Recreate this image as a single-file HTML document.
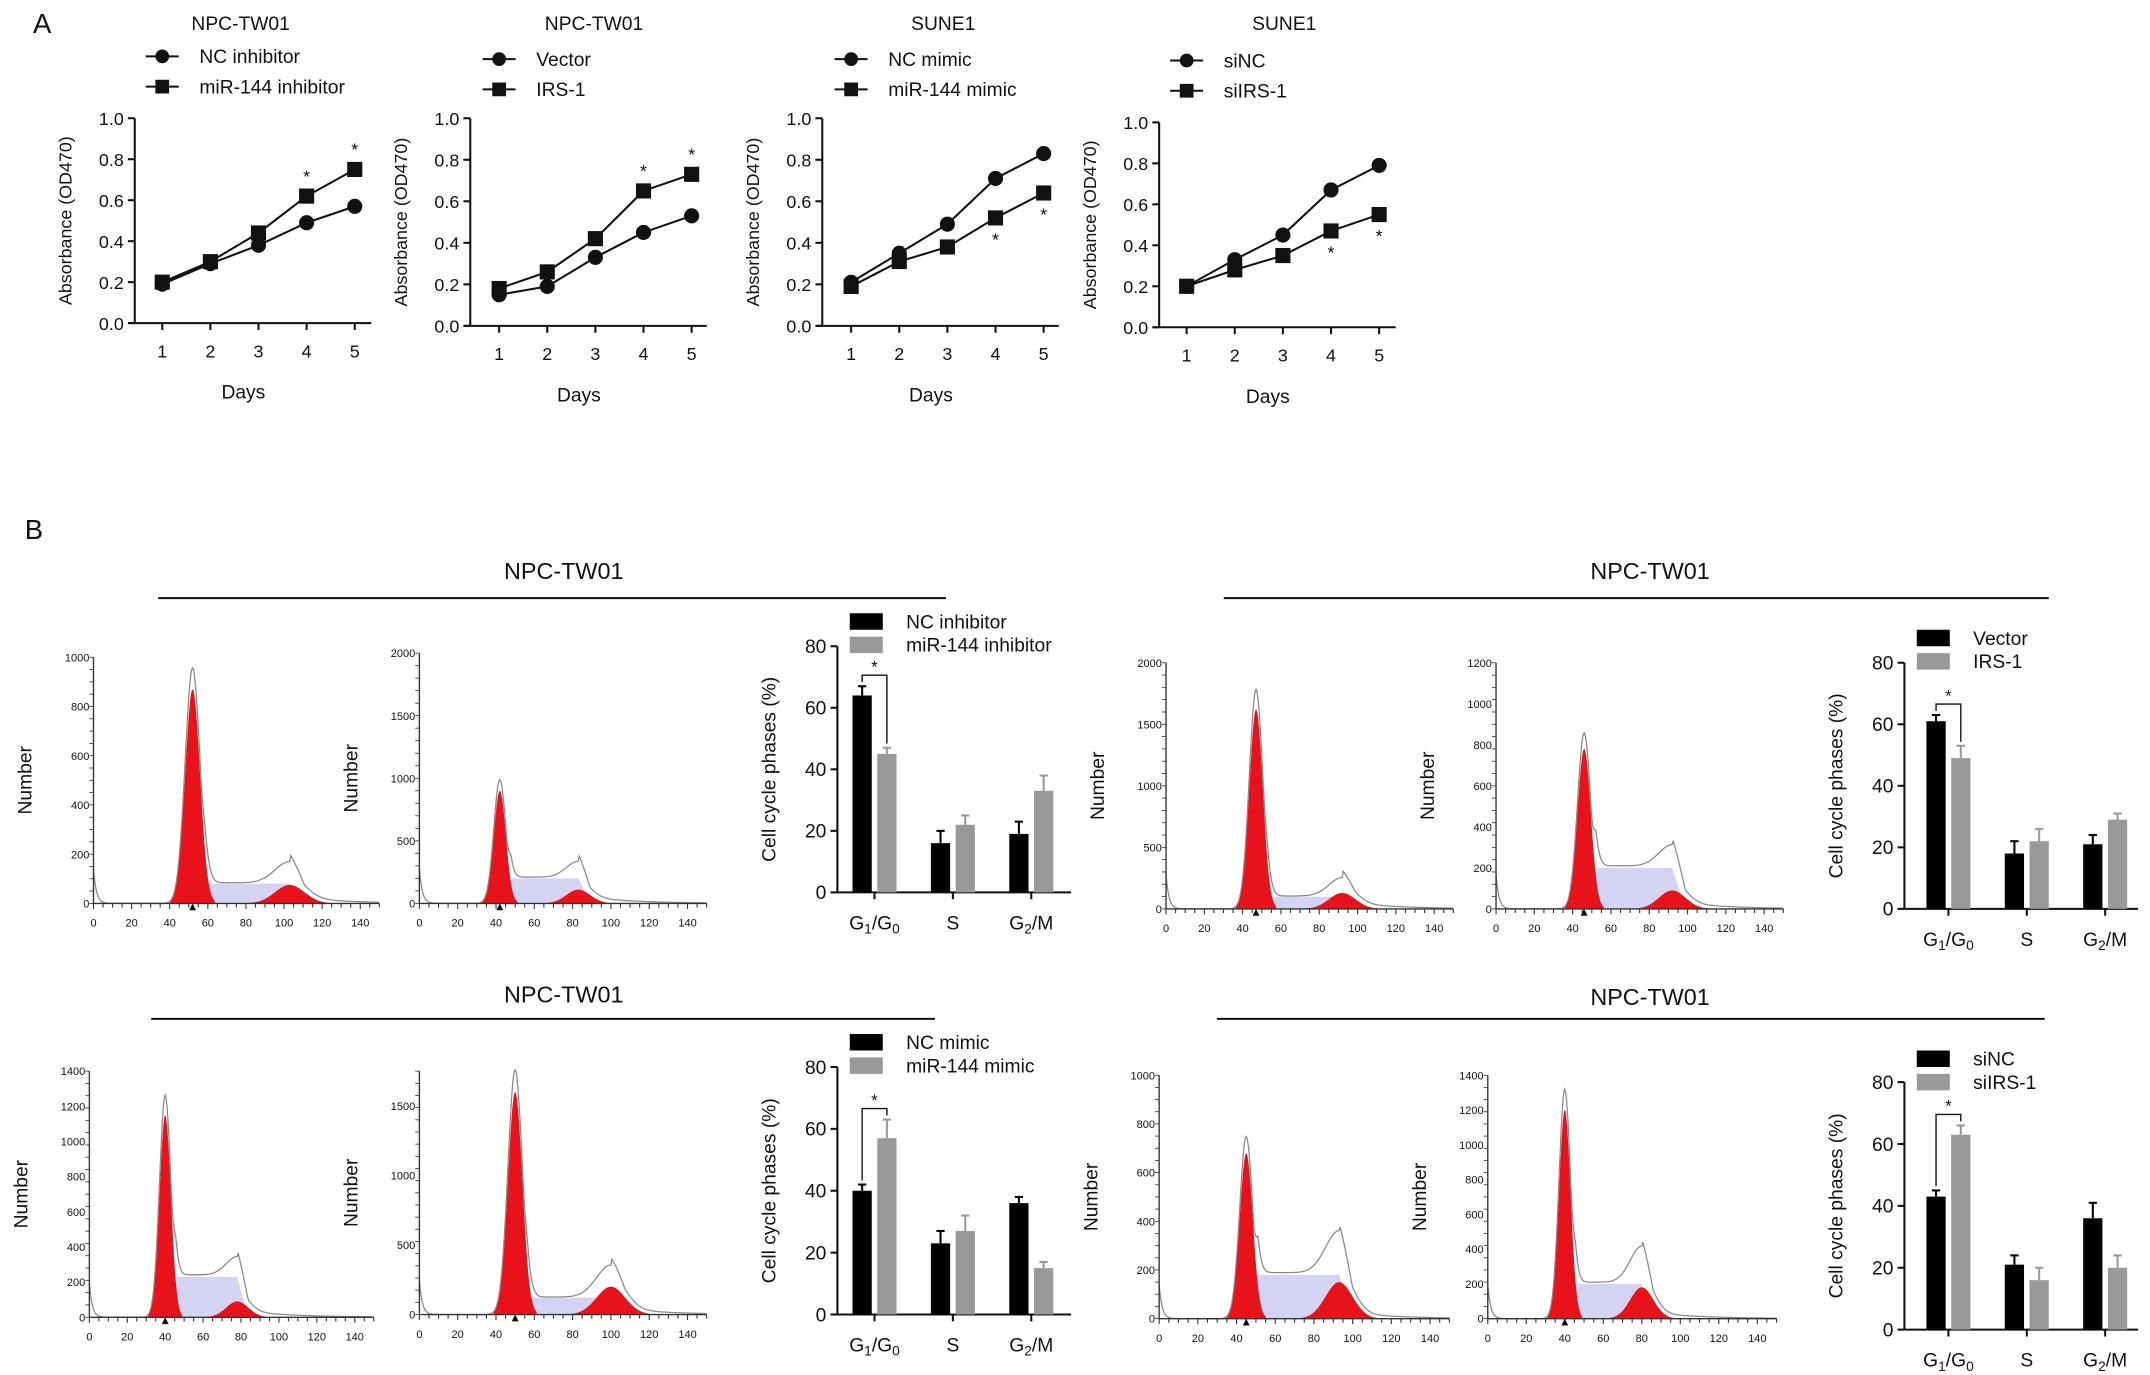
<!DOCTYPE html>
<html><head><meta charset="utf-8"><style>
html,body{margin:0;padding:0;background:#fff}
svg{display:block}
text{font-family:"Liberation Sans",sans-serif;fill:#111}
</style></head><body>
<svg id="fig" width="2150" height="1375" viewBox="0 0 1563.6 1000" preserveAspectRatio="none" xmlns="http://www.w3.org/2000/svg"></svg>
<script>
// ---- Panel A data ----
const days=[1,2,3,4,5];
const aTitles=["NPC-TW01","NPC-TW01","SUNE1","SUNE1"];
const aCircleLabels=["NC inhibitor","Vector","NC mimic","siNC"];
const aSquareLabels=["miR-144 inhibitor","IRS-1","miR-144 mimic","siIRS-1"];
const aCircle1=[0.19,0.29,0.38,0.49,0.57];
const aSquare1=[0.20,0.30,0.44,0.62,0.75];
const aCircle2=[0.15,0.19,0.33,0.45,0.53];
const aSquare2=[0.18,0.26,0.42,0.65,0.73];
const aCircle3=[0.21,0.35,0.49,0.71,0.83];
const aSquare3=[0.19,0.31,0.38,0.52,0.64];
const aCircle4=[0.20,0.33,0.45,0.67,0.79];
const aSquare4=[0.20,0.28,0.35,0.47,0.55];
const yTicksA=[0.0,0.2,0.4,0.6,0.8,1.0];
// ---- Panel B bar data ----
const phases=["G1/G0","S","G2/M"];
const barBlack1=[64,16,19], barGray1=[45,22,33];
const barBlack2=[61,18,21], barGray2=[49,22,29];
const barBlack3=[40,23,36], barGray3=[57,27,15];
const barBlack4=[43,21,36], barGray4=[63,16,20];
const barErrB1=[3,4,4], barErrG1=[2,3,5];
const barErrB2=[2,4,3], barErrG2=[4,4,2];
const barErrB3=[2,4,2], barErrG3=[6,5,2];
const barErrB4=[2,3,5], barErrG4=[3,4,4];
const barBlackLabels=["NC inhibitor","Vector","NC mimic","siNC"];
const barGrayLabels=["miR-144 inhibitor","IRS-1","miR-144 mimic","siIRS-1"];
const yTicksB=[0,20,40,60,80];
// ---- Histogram data ----
const histYMax=[1000,2000,2000,1200,1400,1750,1000,1400];
const histTicks=[[200,400,600,800,1000],[500,1000,1500,2000],[500,1000,1500,2000],[200,400,600,800,1000,1200],[200,400,600,800,1000,1200,1400],[500,1000,1500],[200,400,600,800,1000],[200,400,600,800,1000,1200,1400]];
const histG1=[52,42,47,46,40,50,45,40];
const histG1H=[870,900,1620,780,1150,1600,680,1200];
const histG2=[103,83,92,92,78,100,93,80];
const histG2H=[75,110,130,90,90,200,150,180];
const histS=[80,200,100,200,230,120,180,200];
const xTicksH=[0,20,40,60,80,100,120,140];

const NS="http://www.w3.org/2000/svg";
const svg=document.getElementById('fig');
function el(tag,attrs,parent){const e=document.createElementNS(NS,tag);for(const k in attrs)e.setAttribute(k,attrs[k]);(parent||svg).appendChild(e);return e;}
function txt(s,x,y,size,anchor,parent,rot){const t=el('text',{x:x,y:y,'font-size':size,'text-anchor':anchor||'middle'},parent);if(rot)t.setAttribute('transform','rotate(-90 '+x+' '+y+')');t.textContent=s;return t;}

const aLayout=[{ax:98,top:86,bot:235,x1:118,tx:175,ty:22,ly:41},{ax:342,top:86,bot:237,x1:363,tx:432,ty:22,ly:43},{ax:598,top:86,bot:237,x1:619,tx:686,ty:22,ly:43},{ax:843,top:89,bot:238,x1:863,tx:934,ty:22,ly:44}];
const aC=[aCircle1,aCircle2,aCircle3,aCircle4], aS=[aSquare1,aSquare2,aSquare3,aSquare4];
const lbA=txt("A",24,24,20,'start');


aLayout.forEach((L,i)=>{
  const g=el('g',{});
  
  
  const xs=d=>L.x1+(d-1)*35, ys=v=>L.bot-v*(L.bot-L.top);
  txt(aTitles[i],L.tx,L.ty,14,'middle',g);
  el('line',{x1:L.x1-12,y1:L.ly,x2:L.x1+12,y2:L.ly,stroke:'#111','stroke-width':1.5},g);
  el('circle',{cx:L.x1,cy:L.ly,r:5,fill:'#111'},g);
  txt(aCircleLabels[i],L.x1+27,L.ly+5,14,'start',g);
  el('line',{x1:L.x1-12,y1:L.ly+22,x2:L.x1+12,y2:L.ly+22,stroke:'#111','stroke-width':1.5},g);
  el('rect',{x:L.x1-5,y:L.ly+17,width:10,height:10,fill:'#111'},g);
  txt(aSquareLabels[i],L.x1+27,L.ly+27,14,'start',g);
  el('line',{x1:L.ax,y1:L.top,x2:L.ax,y2:L.bot,stroke:'#111','stroke-width':1.5},g);
  el('line',{x1:L.ax-4,y1:L.bot,x2:L.ax+172,y2:L.bot,stroke:'#111','stroke-width':1.5},g);
  yTicksA.forEach(t=>{el('line',{x1:L.ax-5,y1:ys(t),x2:L.ax,y2:ys(t),stroke:'#111','stroke-width':1.5},g);txt(t.toFixed(1),L.ax-8,ys(t)+5,13,'end',g);});
  days.forEach(d=>{el('line',{x1:xs(d),y1:L.bot,x2:xs(d),y2:L.bot+5,stroke:'#111','stroke-width':1.5},g);txt(String(d),xs(d),L.bot+25,13,'middle',g);});
  txt("Days",L.ax+79,L.bot+55,14,'middle',g);
  txt("Absorbance (OD470)",L.ax-46,(L.top+L.bot)/2,13,'middle',g,true);
  [aC[i],aS[i]].forEach((ser,si)=>{
    el('polyline',{points:ser.map((v,k)=>xs(days[k])+','+ys(v)).join(' '),fill:'none',stroke:'#111','stroke-width':1.5},g);
    ser.forEach((v,k)=>{
      el('line',{x1:xs(days[k]),y1:ys(v)-4,x2:xs(days[k]),y2:ys(v)+4,stroke:'#111','stroke-width':1.2},g);
      if(si===0)el('circle',{cx:xs(days[k]),cy:ys(v),r:5.5,fill:'#111'},g);
      else el('rect',{x:xs(days[k])-5.5,y:ys(v)-5.5,width:11,height:11,fill:'#111'},g);
    });
  });
  [3,4].forEach(k=>{
    const up=aS[i][k]>aC[i][k];
    const y=up?ys(aS[i][k])-10:ys(aS[i][k])+20;
    txt("*",xs(days[k]),y,13,'middle',g);
  });
});

const lbB=txt("B",18,392,20,'start');


const titlesB=[{x:410,y:421,l1:115,l2:688,ly:435},{x:1200,y:421,l1:890,l2:1490,ly:435},{x:410,y:729,l1:110,l2:680,ly:741},{x:1200,y:731,l1:885,l2:1487,ly:741}];
titlesB.forEach((T,i)=>{
  const t=txt("NPC-TW01",T.x,T.y,17,'middle');
  
  
  const ln=el('line',{x1:T.l1,y1:T.ly,x2:T.l2,y2:T.ly,stroke:'#111','stroke-width':1.5});
  
  
});

const hLayout=[{ax:68,top:478,bot:657,x140:262},{ax:305,top:475,bot:657,x140:500},{ax:848,top:482,bot:661,x140:1043},{ax:1088,top:482,bot:661,x140:1283},{ax:65,top:779,bot:958,x140:258},{ax:305,top:779,bot:956,x140:500},{ax:843,top:782,bot:959,x140:1040},{ax:1082,top:782,bot:959,x140:1278}];
function gauss(x,m,s){return Math.exp(-0.5*((x-m)/s)*((x-m)/s));}
hLayout.forEach((L,i)=>{
  const g=el('g',{});
  
  
  const ymax=histYMax[i];
  const xs=c=>L.ax+c*(L.x140-L.ax)/140, ys=v=>L.bot-v/ymax*(L.bot-L.top);
  const m1=histG1[i],h1=histG1H[i],m2=histG2[i],h2=histG2H[i],sp=histS[i];
  const s1=m1*0.075,s2=m2*0.075;
  const sFun=c=>{const a=m1+1.2*s1,b=m2;if(c<a||c>b+s2)return 0;let r=sp;if(c<a+2)r*=(c-a)/2;if(c>b)r*=1-(c-b)/s2;return Math.max(0,r);};
  let p='M'+xs(m1)+','+L.bot;
  for(let c=m1;c<=m2+s2*2;c+=0.5)p+=' L'+xs(c)+','+ys(sFun(c));
  p+=' L'+xs(m2+s2*2)+','+L.bot+'Z';
  el('path',{d:p,fill:'#c9c9ef','fill-opacity':0.8},g);
  [[m1,h1,s1],[m2,h2,s2]].forEach(([m,h,s])=>{
    let d='M'+xs(m-3*s)+','+L.bot;
    for(let c=m-3*s;c<=m+3*s;c+=0.25)d+=' L'+xs(c)+','+ys(h*gauss(c,m,s));
    d+=' L'+xs(m+3*s)+','+L.bot+'Z';
    el('path',{d:d,fill:'#e8121a'},g);
  });
  let o='M'+xs(0)+','+ys(ymax*0.14);
  for(let c=0.5;c<=150;c+=0.5){
    let v=h1*1.1*gauss(c,m1,s1)+h2*1.15*gauss(c,m2,s2)+sFun(c)*1.05+ymax*0.14*Math.exp(-c/1.5)+(c>m2?ymax*0.03*Math.exp(-(c-m2)/25):0);
    o+=' L'+xs(c)+','+ys(v);
  }
  el('path',{d:o,fill:'none',stroke:'#888','stroke-width':0.9},g);
  el('line',{x1:L.ax,y1:L.top,x2:L.ax,y2:L.bot,stroke:'#333','stroke-width':1},g);
  el('line',{x1:L.ax,y1:L.bot,x2:xs(150),y2:L.bot,stroke:'#333','stroke-width':1},g);
  for(let c=0;c<=150;c+=5)el('line',{x1:xs(c),y1:L.bot,x2:xs(c),y2:L.bot+(c%20===0?4:3),stroke:'#333','stroke-width':0.8},g);
  for(let v=0;v<=ymax;v+=ymax/20)el('line',{x1:L.ax-3,y1:ys(v),x2:L.ax,y2:ys(v),stroke:'#333','stroke-width':0.6},g);
  xTicksH.forEach(c=>txt(String(c),xs(c),L.bot+17,8,'middle',g));
  [0].concat(histTicks[i]).forEach(v=>txt(String(v),L.ax-3,ys(v)+3,8,'end',g));
  el('path',{d:'M'+(xs(m1)-2.5)+','+(L.bot+5)+' l2.5,-5 l2.5,5z',fill:'#111'},g);
  txt("Number",L.ax-45,(L.top+L.bot)/2,14,'middle',g,true);
});

const bLayout=[{ax:609,top:470,bot:649,gx:[636,693,750],ly:452},{ax:1385,top:482,bot:661,gx:[1417,1474,1531],ly:464},{ax:609,top:776,bot:956,gx:[636,693,750],ly:758},{ax:1385,top:787,bot:967,gx:[1417,1474,1531],ly:770}];
const bB=[barBlack1,barBlack2,barBlack3,barBlack4], bG=[barGray1,barGray2,barGray3,barGray4];
const eB=[barErrB1,barErrB2,barErrB3,barErrB4], eG=[barErrG1,barErrG2,barErrG3,barErrG4];
bLayout.forEach((L,i)=>{
  const g=el('g',{});
  
  
  const ys=v=>L.bot-v/80*(L.bot-L.top);
  el('rect',{x:L.ax+9,y:L.ly-6,width:24,height:12,fill:'#000'},g);
  txt(barBlackLabels[i],L.ax+50,L.ly+5,14,'start',g);
  el('rect',{x:L.ax+9,y:L.ly+11,width:24,height:12,fill:'#999'},g);
  txt(barGrayLabels[i],L.ax+50,L.ly+22,14,'start',g);
  el('line',{x1:L.ax,y1:L.top,x2:L.ax,y2:L.bot,stroke:'#111','stroke-width':1.5},g);
  el('line',{x1:L.ax,y1:L.bot,x2:L.ax+170,y2:L.bot,stroke:'#111','stroke-width':1.5},g);
  yTicksB.forEach(t=>{el('line',{x1:L.ax-5,y1:ys(t),x2:L.ax,y2:ys(t),stroke:'#111','stroke-width':1.5},g);txt(String(t),L.ax-8,ys(t)+5,14,'end',g);});
  txt("Cell cycle phases (%)",L.ax-45,(L.top+L.bot)/2,14,'middle',g,true);
  L.gx.forEach((cx,k)=>{
    [[bB[i][k],eB[i][k],'#000',cx-16],[bG[i][k],eG[i][k],'#999',cx+2]].forEach(([v,e,col,x])=>{
      const r=el('rect',{x:x,y:ys(v),width:14,height:L.bot-ys(v),fill:col},g);
      
      
      el('line',{x1:x+7,y1:ys(v),x2:x+7,y2:ys(v+e),stroke:col,'stroke-width':1.5},g);
      el('line',{x1:x+4,y1:ys(v+e),x2:x+10,y2:ys(v+e),stroke:col,'stroke-width':1.5},g);
    });
    el('line',{x1:cx,y1:L.bot,x2:cx,y2:L.bot+5,stroke:'#111','stroke-width':1.5},g);
  });
  const t1=el('text',{x:L.gx[0],y:L.bot+27,'font-size':14,'text-anchor':'middle'},g);
  t1.innerHTML='G<tspan font-size="10" dy="3">1</tspan><tspan dy="-3">/G</tspan><tspan font-size="10" dy="3">0</tspan>';
  txt("S",L.gx[1],L.bot+27,14,'middle',g);
  const t3=el('text',{x:L.gx[2],y:L.bot+27,'font-size':14,'text-anchor':'middle'},g);
  t3.innerHTML='G<tspan font-size="10" dy="3">2</tspan><tspan dy="-3">/M</tspan>';
  const top=Math.max(bB[i][0]+eB[i][0],bG[i][0]+eG[i][0]);
  const by=ys(top)-8;
  el('polyline',{points:(L.gx[0]-9)+','+(ys(bB[i][0]+eB[i][0])-3)+' '+(L.gx[0]-9)+','+by+' '+(L.gx[0]+9)+','+by+' '+(L.gx[0]+9)+','+(ys(bG[i][0]+eG[i][0])-3),fill:'none',stroke:'#111','stroke-width':1},g);
  txt("*",L.gx[0],by-2,12,'middle',g);
});
</script>
</body></html>
